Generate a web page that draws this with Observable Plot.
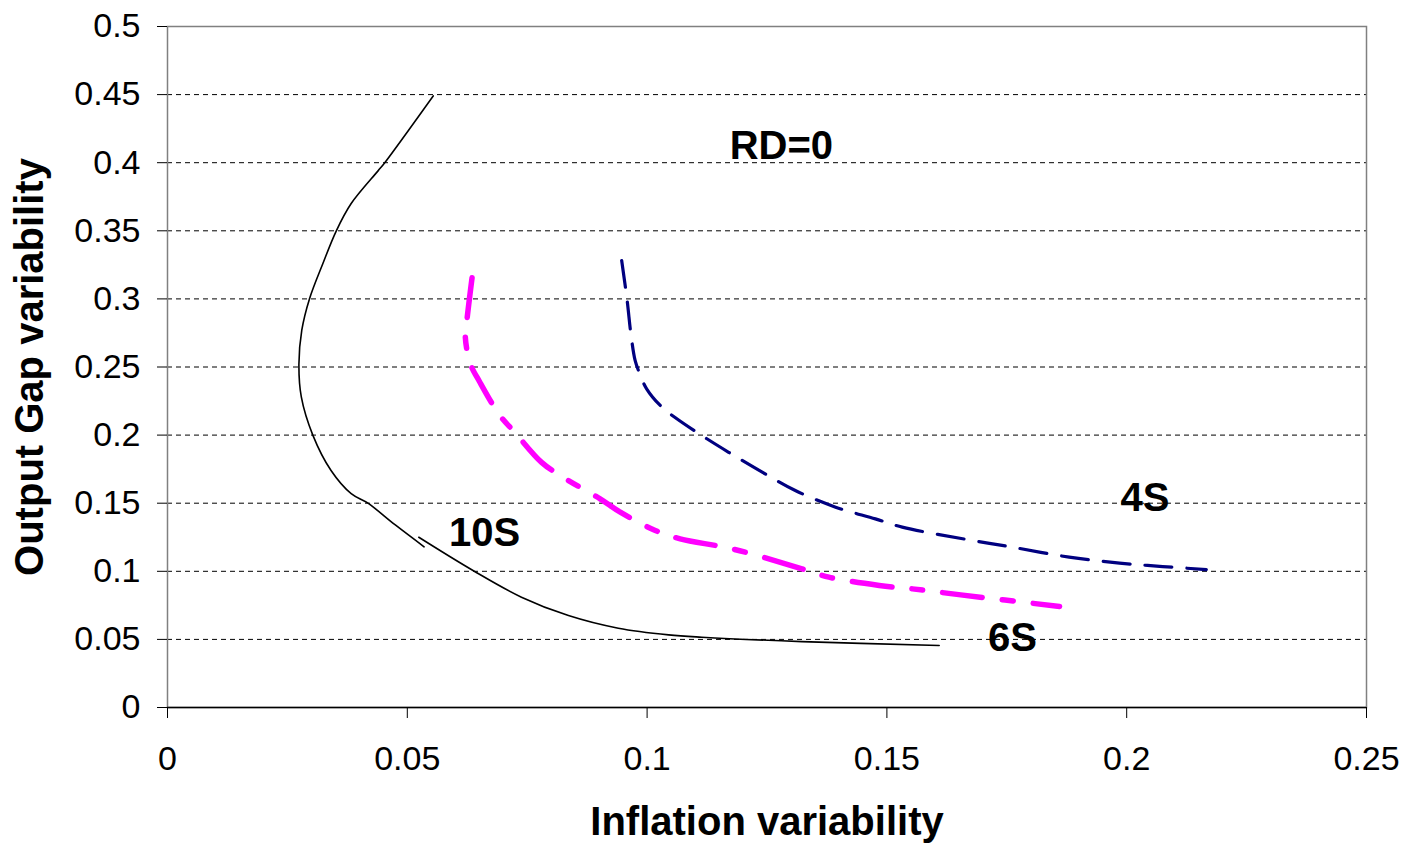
<!DOCTYPE html>
<html>
<head>
<meta charset="utf-8">
<script src="https://cdn.jsdelivr.net/npm/d3@7"></script>
<script src="https://cdn.jsdelivr.net/npm/@observablehq/plot@0.6"></script>
<style>
  html, body { margin: 0; padding: 0; background: #fff; }
  #chart svg { display: block; }
</style>
</head>
<body>
<div id="chart"></div>
<script>
// Tick values and labels
const xTicks = [0, 0.05, 0.1, 0.15, 0.2, 0.25];
const xTickLabels = ["0", "0.05", "0.1", "0.15", "0.2", "0.25"];
const yTicks = [0, 0.05, 0.1, 0.15, 0.2, 0.25, 0.3, 0.35, 0.4, 0.45, 0.5];
const yTickLabels = ["0", "0.05", "0.1", "0.15", "0.2", "0.25", "0.3", "0.35", "0.4", "0.45", "0.5"];
const gridY = [0.05, 0.1, 0.15, 0.2, 0.25, 0.3, 0.35, 0.4, 0.45];

// Black curve, upper piece
const blackUpperX = [0.0554, 0.0453, 0.0439, 0.0383, 0.0352, 0.0324, 0.0296, 0.0280, 0.0274, 0.0279, 0.0303, 0.0341, 0.0383, 0.0418, 0.0475, 0.0535];
const blackUpperY = [0.449, 0.400, 0.394, 0.370, 0.350, 0.326, 0.300, 0.277, 0.252, 0.228, 0.200, 0.174, 0.157, 0.150, 0.134, 0.118];
// Black curve, lower piece
const blackLowerX = [0.0524, 0.0637, 0.0738, 0.0836, 0.0940, 0.1045, 0.1114, 0.1323, 0.1609];
const blackLowerY = [0.125, 0.1006, 0.0810, 0.0675, 0.0582, 0.0533, 0.0516, 0.0484, 0.0455];
// Magenta curve
const pinkX = [0.0635, 0.0625, 0.0621, 0.0632, 0.0651, 0.0693, 0.0724, 0.0780, 0.0825, 0.0902, 0.0944, 0.1017, 0.1069, 0.1177, 0.1323, 0.1379, 0.1484, 0.1553, 0.1654, 0.1860];
const pinkY = [0.3155, 0.2866, 0.272, 0.252, 0.239, 0.2144, 0.2021, 0.180, 0.169, 0.1532, 0.1434, 0.130, 0.1238, 0.1165, 0.1018, 0.0957, 0.0896, 0.0871, 0.0827, 0.0742];
// Navy curve
const blueX = [0.0947, 0.0958, 0.0967, 0.0975, 0.0982, 0.0999, 0.1031, 0.1062, 0.1114, 0.1170, 0.1240, 0.1309, 0.1393, 0.1476, 0.1532, 0.1658, 0.1762, 0.1880, 0.1985, 0.2075, 0.2166];
const blueY = [0.3282, 0.300, 0.272, 0.2548, 0.2474, 0.234, 0.2205, 0.212, 0.1997, 0.1874, 0.1728, 0.1593, 0.1471, 0.1385, 0.1324, 0.1239, 0.1177, 0.1104, 0.1060, 0.1035, 0.1013];

// Curve labels
const labelNames = ["RD=0", "4S", "10S", "6S"];
const labelX = [0.128, 0.2038, 0.0661, 0.1762];
const labelY = [0.412, 0.1535, 0.1278, 0.0507];

const xTitle = "Inflation variability";
const yTitle = "Output Gap variability";

const toPts = (xs, ys, z) => xs.map((x, i) => ({x, y: ys[i], z}));
const blackData = [...toPts(blackUpperX, blackUpperY, "a"), ...toPts(blackLowerX, blackLowerY, "b")];
const pinkData = toPts(pinkX, pinkY, "p");
const blueData = toPts(blueX, blueY, "n");
const labels = labelNames.map((t, i) => ({t, x: labelX[i], y: labelY[i]}));

const font = "'Liberation Sans', Arial, Helvetica, sans-serif";

const chart = Plot.plot({
  width: 1408,
  height: 847,
  marginLeft: 167,
  marginRight: 42,
  marginTop: 26,
  marginBottom: 140,
  style: {fontFamily: font, fontSize: "34px", color: "#000", background: "#fff"},
  x: {domain: [0, 0.25], axis: null},
  y: {domain: [0, 0.5], axis: null},
  marks: [
    Plot.ruleY(gridY, {stroke: "#000", strokeWidth: 1, strokeDasharray: "5,4"}),
    Plot.frame({stroke: "#808080", strokeWidth: 1.5}),
    Plot.ruleY([0], {stroke: "#000", strokeWidth: 1.5}),
    Plot.axisY({ticks: yTicks, tickSize: 10, tickPadding: 17, tickFormat: (d) => yTickLabels[yTicks.indexOf(d)], fontSize: 34, stroke: "#000", label: null}),
    Plot.axisX({ticks: xTicks, tickSize: 11, tickPadding: 27, tickFormat: (d) => xTickLabels[xTicks.indexOf(d)], fontSize: 34, stroke: "#000", label: null}),
    Plot.line(blackData, {x: "x", y: "y", z: "z", stroke: "#000", strokeWidth: 1.6, curve: "catmull-rom"}),
    Plot.line(pinkData, {x: "x", y: "y", stroke: "#ff00ff", strokeWidth: 5.5, strokeDasharray: "40,20,11,20", curve: "catmull-rom"}),
    Plot.line(blueData, {x: "x", y: "y", stroke: "#000080", strokeWidth: 3.2, strokeDasharray: "27,15", curve: "catmull-rom"}),
    Plot.text(labels, {x: "x", y: "y", text: "t", fontSize: 40, fontWeight: "bold", fill: "#000"}),
    Plot.text([xTitle], {frameAnchor: "bottom", textAnchor: "middle", lineAnchor: "middle", dy: 115, fontSize: 40, fontWeight: "bold", fill: "#000"}),
    Plot.text([yTitle], {frameAnchor: "left", textAnchor: "middle", lineAnchor: "middle", dx: -137, rotate: -90, fontSize: 40, fontWeight: "bold", fill: "#000"})
  ]
});
document.getElementById("chart").appendChild(chart);
</script>
</body>
</html>
